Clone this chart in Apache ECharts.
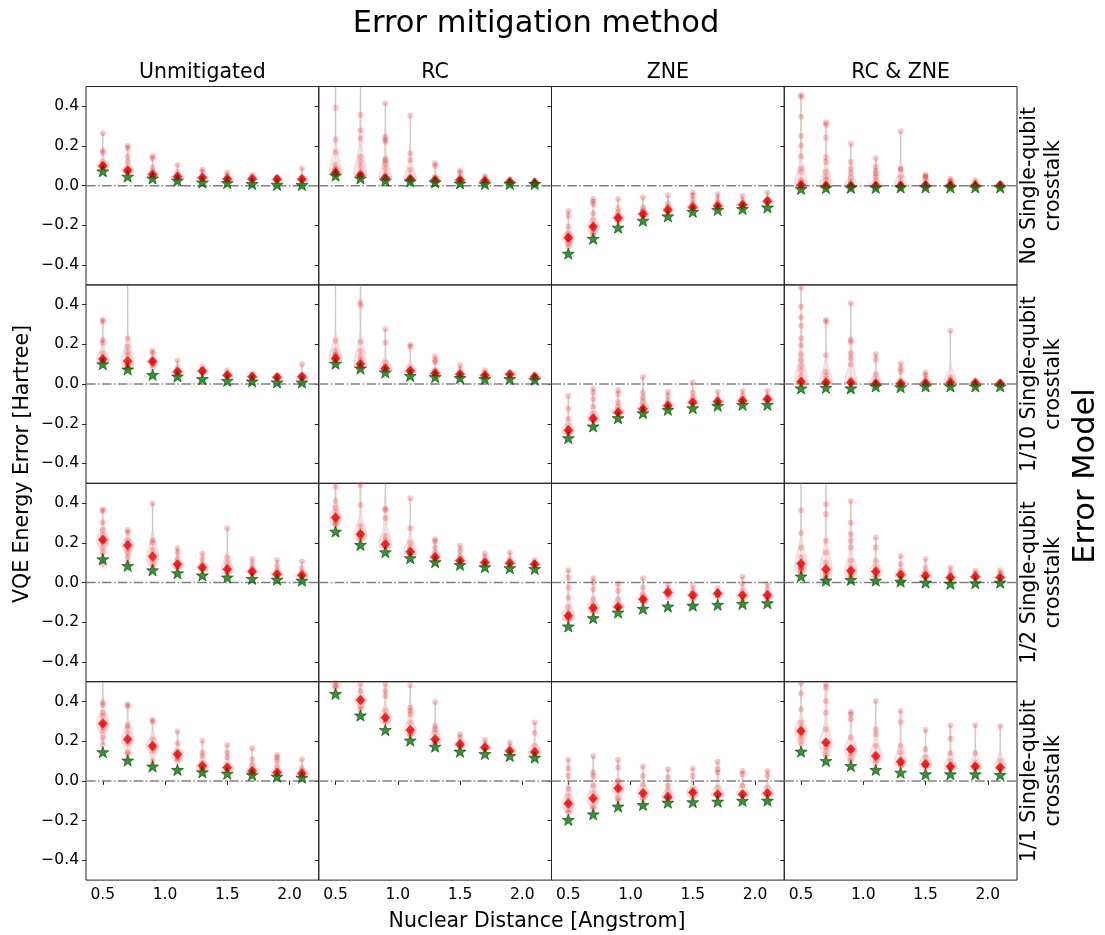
<!DOCTYPE html>
<html>
<head>
<meta charset="utf-8">
<script src="https://cdn.jsdelivr.net/npm/echarts@6/dist/echarts.min.js"></script>
<style>html,body{margin:0;padding:0;background:#fff}#c{width:1105px;height:935px}</style>
</head>
<body>
<div id="c"></div>
<script>
// ---------------- DATA ----------------
const distances = [0.5, 0.7, 0.9, 1.1, 1.3, 1.5, 1.7, 1.9, 2.1];
const xTicks = [0.5, 1.0, 1.5, 2.0];
const yTicks = [-0.4, -0.2, 0.0, 0.2, 0.4];
const methods = ['Unmitigated', 'RC', 'ZNE', 'RC & ZNE'];
const errorModels = ['No Single-qubit\ncrosstalk', '1/10 Single-qubit\ncrosstalk', '1/2 Single-qubit\ncrosstalk', '1/1 Single-qubit\ncrosstalk'];

// Row A: No single-qubit crosstalk
const ideal_A1 = [0.076,0.049,0.040,0.029,0.020,0.017,0.012,0.008,0.007];
const mean_A1  = [0.099,0.076,0.057,0.045,0.040,0.034,0.034,0.032,0.032];
const samples_A1 = [
  [0.264,0.176,0.166,0.121,0.110,0.100,0.098,0.095,0.092,0.104,0.090],
  [0.200,0.190,0.146,0.120,0.090,0.080,0.075,0.070,0.072,0.065],
  [0.150,0.138,0.090,0.070,0.060,0.055,0.050,0.052,0.048],
  [0.104,0.070,0.055,0.048,0.044,0.040,0.038,0.042],
  [0.082,0.070,0.050,0.042,0.038,0.035,0.036],
  [0.066,0.052,0.040,0.034,0.030,0.032,0.028],
  [0.054,0.045,0.036,0.032,0.030,0.028],
  [0.045,0.040,0.034,0.030,0.028,0.026],
  [0.087,0.045,0.036,0.030,0.028,0.026]];
const ideal_A2 = [0.054,0.040,0.029,0.025,0.020,0.015,0.012,0.012,0.012];
const mean_A2  = [0.065,0.054,0.040,0.034,0.029,0.029,0.024,0.020,0.015];
const samples_A2 = [
  [0.62,0.393,0.233,0.168,0.104,0.085,0.075,0.070,0.066,0.064,0.062,0.060,0.080],
  [0.70,0.356,0.280,0.238,0.146,0.121,0.095,0.070,0.060,0.055,0.052,0.050,0.048],
  [0.415,0.247,0.233,0.222,0.134,0.126,0.109,0.087,0.060,0.045,0.040,0.038,0.036],
  [0.354,0.163,0.130,0.079,0.045,0.035,0.032,0.030,0.033],
  [0.113,0.099,0.042,0.030,0.028,0.027,0.026],
  [0.076,0.066,0.045,0.030,0.028,0.026,0.025],
  [0.049,0.040,0.028,0.024,0.022,0.021],
  [0.034,0.024,0.020,0.018,0.017],
  [0.025,0.018,0.015,0.014,0.013]];
const ideal_A3 = [-0.339,-0.264,-0.208,-0.173,-0.151,-0.128,-0.119,-0.114,-0.106];
const mean_A3  = [-0.262,-0.207,-0.161,-0.143,-0.123,-0.109,-0.102,-0.097,-0.079];
const samples_A3 = [
  [-0.128,-0.153,-0.207,-0.240,-0.255,-0.262,-0.270,-0.275,-0.290,-0.307,-0.250],
  [-0.067,-0.080,-0.094,-0.139,-0.173,-0.195,-0.205,-0.210,-0.220,-0.232,-0.250],
  [-0.067,-0.114,-0.135,-0.150,-0.160,-0.165,-0.170,-0.181],
  [-0.059,-0.109,-0.125,-0.135,-0.142,-0.148,-0.155],
  [-0.050,-0.089,-0.105,-0.115,-0.122,-0.128,-0.132],
  [-0.034,-0.050,-0.069,-0.090,-0.100,-0.108,-0.112,-0.115],
  [-0.042,-0.064,-0.085,-0.095,-0.100,-0.105,-0.108],
  [-0.052,-0.076,-0.090,-0.095,-0.098,-0.100],
  [-0.035,-0.064,-0.072,-0.077,-0.080,-0.083]];
const ideal_A4 = [-0.013,-0.008,-0.007,-0.007,-0.005,-0.005,-0.005,-0.005,-0.005];
const mean_A4  = [0.003,0.000,0.000,0.000,0.000,0.002,0.002,0.002,0.002];
const samples_A4 = [
  [0.457,0.448,0.348,0.250,0.203,0.149,0.087,0.070,0.029,0.020,0.010,0.005,0.000,-0.005,0.002],
  [0.319,0.309,0.242,0.143,0.119,0.070,0.045,0.030,0.010,0.003,0.000,-0.004],
  [0.210,0.119,0.087,0.065,0.040,0.020,0.008,0.002,0.000,-0.003],
  [0.138,0.096,0.075,0.062,0.045,0.025,0.010,0.002,0.000,-0.002],
  [0.275,0.087,0.079,0.045,0.020,0.008,0.002,0.000,-0.002],
  [0.054,0.050,0.042,0.030,0.010,0.004,0.001],
  [0.035,0.025,0.020,0.010,0.003,0.001],
  [0.029,0.015,0.005,0.002,0.000],
  [0.012,0.008,0.004,0.002,0.000]];

// Row B: 1/10 single-qubit crosstalk
const ideal_B1 = [0.104,0.077,0.050,0.042,0.029,0.020,0.017,0.012,0.012];
const mean_B1  = [0.126,0.116,0.114,0.062,0.066,0.045,0.037,0.034,0.037];
const samples_B1 = [
  [0.324,0.316,0.222,0.208,0.155,0.125,0.120,0.118,0.115,0.113,0.130],
  [0.55,0.230,0.188,0.163,0.145,0.100,0.090,0.085,0.080,0.095,0.110],
  [0.168,0.155,0.125,0.115,0.110,0.100,0.084,0.120],
  [0.118,0.085,0.070,0.060,0.055,0.050,0.065],
  [0.087,0.075,0.065,0.060,0.055,0.070],
  [0.070,0.055,0.048,0.042,0.040,0.038],
  [0.054,0.045,0.040,0.035,0.032,0.030],
  [0.045,0.038,0.034,0.030,0.028],
  [0.100,0.045,0.038,0.034,0.030,0.028]];
const ideal_B2 = [0.106,0.082,0.062,0.045,0.039,0.034,0.029,0.029,0.025];
const mean_B2  = [0.129,0.101,0.079,0.067,0.055,0.050,0.045,0.050,0.037];
const samples_B2 = [
  [0.56,0.218,0.168,0.150,0.140,0.130,0.125,0.120,0.115,0.135,0.145],
  [0.60,0.411,0.398,0.213,0.168,0.140,0.120,0.105,0.095,0.090,0.088,0.100],
  [0.277,0.210,0.110,0.090,0.080,0.075,0.072,0.070,0.085],
  [0.198,0.188,0.085,0.070,0.062,0.060,0.058,0.065],
  [0.139,0.120,0.110,0.070,0.055,0.050,0.048,0.060],
  [0.096,0.072,0.055,0.048,0.045,0.044],
  [0.070,0.055,0.045,0.040,0.038],
  [0.059,0.050,0.045,0.040,0.038],
  [0.050,0.042,0.038,0.035,0.033]];
const ideal_B3 = [-0.269,-0.210,-0.168,-0.143,-0.126,-0.118,-0.106,-0.101,-0.101];
const mean_B3  = [-0.232,-0.173,-0.143,-0.126,-0.109,-0.092,-0.089,-0.084,-0.076];
const samples_B3 = [
  [-0.059,-0.123,-0.176,-0.210,-0.225,-0.232,-0.238,-0.245,-0.250],
  [-0.022,-0.042,-0.075,-0.113,-0.150,-0.165,-0.172,-0.178,-0.185],
  [-0.030,-0.050,-0.092,-0.115,-0.130,-0.140,-0.145,-0.150],
  [0.034,-0.042,-0.067,-0.089,-0.110,-0.120,-0.125,-0.130],
  [-0.039,-0.060,-0.085,-0.100,-0.105,-0.110,-0.115],
  [0.008,-0.042,-0.067,-0.085,-0.090,-0.095,-0.098],
  [-0.039,-0.067,-0.080,-0.088,-0.092,-0.095],
  [-0.034,-0.059,-0.075,-0.082,-0.086,-0.090],
  [-0.034,-0.059,-0.068,-0.074,-0.078,-0.082]];
const ideal_B4 = [-0.018,-0.015,-0.018,-0.008,-0.012,-0.008,-0.008,-0.008,-0.008];
const mean_B4  = [0.012,0.008,0.008,0.003,0.003,0.005,0.008,0.005,0.003];
const samples_B4 = [
  [0.55,0.487,0.391,0.336,0.294,0.230,0.196,0.150,0.120,0.092,0.070,0.042,0.020,0.010,0.005,0.000,0.015],
  [0.324,0.314,0.146,0.062,0.042,0.025,0.012,0.005,0.002,0.008],
  [0.408,0.223,0.213,0.156,0.130,0.100,0.025,0.010,0.005,0.002,0.008],
  [0.151,0.123,0.050,0.025,0.010,0.004,0.002,0.000],
  [0.104,0.079,0.062,0.017,0.008,0.003,0.001,0.000],
  [0.059,0.045,0.025,0.010,0.005,0.003,0.002],
  [0.269,0.034,0.022,0.010,0.006,0.004,0.003],
  [0.020,0.010,0.006,0.004,0.003],
  [0.013,0.006,0.004,0.002,0.001]];

// Row C: 1/2 single-qubit crosstalk
const ideal_C1 = [0.121,0.087,0.065,0.050,0.039,0.029,0.022,0.018,0.013];
const mean_C1  = [0.215,0.188,0.131,0.092,0.076,0.067,0.055,0.042,0.037];
const samples_C1 = [
  [0.369,0.361,0.302,0.264,0.240,0.220,0.210,0.200,0.176,0.150,0.092],
  [0.264,0.252,0.213,0.200,0.185,0.170,0.150,0.126,0.100],
  [0.398,0.213,0.200,0.165,0.140,0.120,0.100,0.080],
  [0.173,0.151,0.120,0.100,0.090,0.080,0.070],
  [0.146,0.118,0.092,0.080,0.070,0.060],
  [0.274,0.126,0.100,0.080,0.070,0.060,0.045],
  [0.118,0.092,0.070,0.060,0.050,0.045],
  [0.113,0.084,0.060,0.050,0.040,0.035],
  [0.106,0.072,0.050,0.040,0.035,0.030]];
const ideal_C2 = [0.260,0.193,0.156,0.126,0.106,0.092,0.081,0.076,0.072];
const mean_C2  = [0.327,0.243,0.193,0.155,0.129,0.109,0.101,0.097,0.092];
const samples_C2 = [
  [0.53,0.482,0.411,0.378,0.355,0.330,0.320,0.310,0.300,0.290],
  [0.53,0.492,0.391,0.285,0.260,0.250,0.240,0.225,0.215],
  [0.56,0.372,0.365,0.324,0.235,0.210,0.195,0.185,0.175],
  [0.425,0.274,0.200,0.175,0.160,0.150,0.145,0.140],
  [0.218,0.207,0.175,0.150,0.135,0.125,0.120],
  [0.185,0.160,0.135,0.115,0.108,0.104],
  [0.146,0.125,0.108,0.100,0.095],
  [0.151,0.118,0.105,0.098,0.092],
  [0.113,0.100,0.094,0.090,0.088]];
const ideal_C3 = [-0.218,-0.176,-0.148,-0.129,-0.118,-0.113,-0.109,-0.104,-0.101];
const mean_C3  = [-0.168,-0.129,-0.123,-0.084,-0.050,-0.064,-0.055,-0.064,-0.064];
const samples_C3 = [
  [0.062,0.025,-0.025,-0.076,-0.125,-0.150,-0.165,-0.170,-0.180,-0.190],
  [0.022,0.000,-0.034,-0.084,-0.109,-0.120,-0.130,-0.140,-0.150],
  [-0.008,-0.042,-0.084,-0.110,-0.120,-0.125,-0.130],
  [0.022,-0.025,-0.059,-0.075,-0.085,-0.090,-0.100],
  [-0.012,-0.034,-0.042,-0.050,-0.055,-0.075],
  [-0.017,-0.042,-0.055,-0.065,-0.070,-0.084],
  [-0.029,-0.045,-0.050,-0.058,-0.065,-0.070],
  [0.029,-0.008,-0.042,-0.059,-0.065,-0.070,-0.092],
  [-0.008,-0.034,-0.055,-0.064,-0.070,-0.084]];
const ideal_C4 = [0.034,0.013,0.017,0.013,0.008,0.003,-0.003,0.000,0.003];
const mean_C4  = [0.096,0.067,0.059,0.055,0.039,0.034,0.025,0.029,0.025];
const samples_C4 = [
  [0.60,0.364,0.250,0.176,0.126,0.100,0.090,0.080,0.075,0.070,0.060,0.050,0.076],
  [0.58,0.395,0.344,0.210,0.151,0.100,0.080,0.060,0.050,0.040,0.030,0.020],
  [0.411,0.302,0.243,0.210,0.176,0.109,0.080,0.060,0.050,0.040,0.030],
  [0.227,0.176,0.109,0.080,0.060,0.050,0.040,0.030],
  [0.134,0.092,0.059,0.045,0.035,0.030,0.025],
  [0.118,0.076,0.050,0.040,0.030,0.025],
  [0.076,0.050,0.035,0.025,0.020,0.015],
  [0.059,0.045,0.035,0.028,0.022],
  [0.062,0.045,0.030,0.025,0.020]];

// Row D: 1/1 single-qubit crosstalk
const ideal_D1 = [0.148,0.106,0.076,0.059,0.047,0.040,0.034,0.025,0.020];
const mean_D1  = [0.289,0.210,0.176,0.134,0.076,0.067,0.050,0.042,0.037];
const samples_D1 = [
  [0.52,0.395,0.383,0.344,0.327,0.300,0.290,0.280,0.270,0.252,0.218,0.185],
  [0.386,0.378,0.282,0.269,0.240,0.215,0.205,0.188,0.143,0.134],
  [0.307,0.299,0.210,0.185,0.175,0.165,0.151,0.100],
  [0.249,0.190,0.150,0.130,0.120,0.115,0.100],
  [0.202,0.143,0.125,0.090,0.075,0.065,0.060,0.055],
  [0.181,0.143,0.118,0.080,0.065,0.058,0.052],
  [0.165,0.109,0.080,0.060,0.050,0.044,0.040],
  [0.131,0.118,0.100,0.070,0.050,0.040,0.035],
  [0.109,0.064,0.050,0.040,0.035,0.030]];
const ideal_D2 = [0.442,0.333,0.260,0.207,0.176,0.151,0.139,0.129,0.121];
const mean_D2  = [0.505,0.408,0.319,0.257,0.210,0.185,0.168,0.151,0.146];
const samples_D2 = [
  [0.60,0.56,0.52,0.495,0.48,0.47],
  [0.487,0.453,0.420,0.410,0.400,0.378,0.360],
  [0.487,0.453,0.428,0.353,0.330,0.315,0.305,0.294],
  [0.482,0.369,0.353,0.336,0.294,0.265,0.250,0.240,0.230],
  [0.398,0.277,0.260,0.243,0.215,0.205,0.195,0.190],
  [0.235,0.218,0.195,0.185,0.175,0.170],
  [0.207,0.185,0.172,0.165,0.158],
  [0.193,0.170,0.155,0.150,0.145],
  [0.294,0.243,0.176,0.155,0.145,0.140,0.135]];
const ideal_D3 = [-0.193,-0.165,-0.126,-0.118,-0.106,-0.104,-0.101,-0.097,-0.096];
const mean_D3  = [-0.114,-0.087,-0.037,-0.062,-0.081,-0.059,-0.067,-0.067,-0.062];
const samples_D3 = [
  [0.106,0.062,0.025,-0.040,-0.076,-0.100,-0.114,-0.125,-0.145,-0.160],
  [0.126,0.042,0.025,-0.025,-0.060,-0.087,-0.100,-0.125,-0.140],
  [0.106,0.067,0.000,-0.020,-0.037,-0.050,-0.084,-0.100],
  [0.072,0.025,-0.020,-0.050,-0.062,-0.075,-0.092],
  [0.059,0.017,-0.025,-0.050,-0.070,-0.080,-0.088],
  [0.062,0.025,-0.042,-0.055,-0.062,-0.084],
  [0.097,0.059,0.042,-0.034,-0.067,-0.075,-0.076],
  [0.050,0.034,-0.025,-0.060,-0.070,-0.075],
  [0.050,0.025,-0.034,-0.055,-0.065,-0.072]];
const ideal_D4 = [0.151,0.104,0.079,0.059,0.045,0.037,0.037,0.037,0.034];
const mean_D4  = [0.252,0.193,0.160,0.126,0.096,0.084,0.072,0.072,0.067];
const samples_D4 = [
  [0.492,0.440,0.361,0.294,0.270,0.255,0.245,0.230,0.210,0.185],
  [0.487,0.470,0.403,0.344,0.260,0.200,0.185,0.170,0.150,0.126],
  [0.348,0.336,0.311,0.218,0.170,0.155,0.140,0.120,0.100],
  [0.403,0.260,0.235,0.176,0.135,0.120,0.110,0.092],
  [0.353,0.297,0.176,0.143,0.110,0.095,0.085,0.075],
  [0.257,0.160,0.118,0.095,0.085,0.080,0.070],
  [0.280,0.213,0.139,0.100,0.080,0.070,0.065,0.060],
  [0.280,0.139,0.092,0.080,0.072,0.068,0.062],
  [0.277,0.100,0.075,0.070,0.065,0.060]];

const panels = [
  [[ideal_A1,mean_A1,samples_A1],[ideal_A2,mean_A2,samples_A2],[ideal_A3,mean_A3,samples_A3],[ideal_A4,mean_A4,samples_A4]],
  [[ideal_B1,mean_B1,samples_B1],[ideal_B2,mean_B2,samples_B2],[ideal_B3,mean_B3,samples_B3],[ideal_B4,mean_B4,samples_B4]],
  [[ideal_C1,mean_C1,samples_C1],[ideal_C2,mean_C2,samples_C2],[ideal_C3,mean_C3,samples_C3],[ideal_C4,mean_C4,samples_C4]],
  [[ideal_D1,mean_D1,samples_D1],[ideal_D2,mean_D2,samples_D2],[ideal_D3,mean_D3,samples_D3],[ideal_D4,mean_D4,samples_D4]]
];

// ---------------- LAYOUT / STYLE ----------------
const FONT = 'DejaVu Sans';
const GL = 86, GT = 86.5, GW = 232.75, GH = 198.4;
const XMIN = 0.365, XMAX = 2.235;
const VIOLIN_WIDTH = 0.1;
const STAR = 'path://M0,-10 L2.35,-3.24 L9.51,-3.09 L3.8,1.24 L5.88,8.09 L0,4 L-5.88,8.09 L-3.8,1.24 L-9.51,-3.09 L-2.35,-3.24 Z';

// Gaussian KDE between sample min and max (violin body). The dense cluster of
// overlapping runs hidden under the mean marker is represented by giving the
// mean a weight comparable to the visible samples.
function kde(samples, center) {
  const n = samples.length;
  const mu = samples.reduce((a, b) => a + b, 0) / n;
  const sd = Math.sqrt(samples.reduce((a, b) => a + (b - mu) * (b - mu), 0) / Math.max(1, n - 1)) || 1e-3;
  const bw = 0.6 * sd * Math.pow(n, -0.2);
  const lo = Math.min(center, ...samples), hi = Math.max(center, ...samples);
  const wc = n * 0.9;
  const ys = [], d = [];
  const N = 100;
  for (let k = 0; k <= N; k++) {
    const y = lo + (hi - lo) * k / N;
    let s = 0;
    for (const v of samples) { const z = (y - v) / bw; s += Math.exp(-0.5 * z * z); }
    const zc = (y - center) / bw; s += wc * Math.exp(-0.5 * zc * zc);
    ys.push(y); d.push(s);
  }
  const m = Math.max(...d);
  return { ys, hw: d.map(v => v / m * VIOLIN_WIDTH / 2), lo, hi };
}

const grid = [], xAxis = [], yAxis = [], series = [];
const fmtY = v => (v < -1e-9 ? '\u2212' : '') + Math.abs(v).toFixed(1);

for (let r = 0; r < 4; r++) {
  for (let c = 0; c < 4; c++) {
    const gi = r * 4 + c;
    const [ideal, mean, samples] = panels[r][c];
    grid.push({ left: GL + c * GW, top: GT + r * GH, width: GW, height: GH,
      show: true, borderColor: '#222', borderWidth: 1, backgroundColor: 'rgba(0,0,0,0)' });
    xAxis.push({ gridIndex: gi, type: 'value', min: XMIN, max: XMAX,
      axisLine: { show: false }, splitLine: { show: false },
      axisTick: { show: r === 3, customValues: xTicks, length: 4, lineStyle: { color: '#222' } },
      axisLabel: { show: r === 3, customValues: xTicks, formatter: v => v.toFixed(1), fontFamily: FONT, fontSize: 15.5, color: '#000', margin: 7 } });
    yAxis.push({ gridIndex: gi, type: 'value', min: -0.5, max: 0.5,
      axisLine: { show: false }, splitLine: { show: false },
      axisTick: { show: true, customValues: yTicks, length: 4, lineStyle: { color: '#222' } },
      axisLabel: { show: c === 0, customValues: yTicks, formatter: fmtY, fontFamily: FONT, fontSize: 15.5, color: '#000', margin: 7 } });

    // zero reference line
    series.push({ type: 'line', xAxisIndex: gi, yAxisIndex: gi, data: [[XMIN, 0], [XMAX, 0]],
      symbol: 'none', silent: true, z: 1, animation: false,
      lineStyle: { color: '#808080', width: 1.5, type: [9.6, 2.4, 1.5, 2.4] } });

    // violins
    const vd = distances.map((x, i) => Object.assign({ x }, kde(samples[i], mean[i])));
    series.push({ type: 'custom', xAxisIndex: gi, yAxisIndex: gi, clip: true, z: 2, silent: true, animation: false,
      data: distances.map((x, i) => [x, mean[i]]),
      renderItem: (params, api) => {
        const v = vd[params.dataIndex];
        const L = [], R = [];
        for (let k = 0; k < v.ys.length; k++) {
          L.push(api.coord([v.x - v.hw[k], v.ys[k]]));
          R.push(api.coord([v.x + v.hw[k], v.ys[k]]));
        }
        const pts = L.concat(R.reverse());
        const a = api.coord([v.x, v.lo]), b = api.coord([v.x, v.hi]);
        return { type: 'group', children: [
          { type: 'polygon', shape: { points: pts }, style: { fill: 'rgba(255,60,60,0.12)', stroke: 'rgba(150,130,130,0.22)', lineWidth: 1 } },
          { type: 'line', shape: { x1: a[0], y1: a[1], x2: b[0], y2: b[1] }, style: { stroke: 'rgba(160,160,160,0.22)', lineWidth: 1.5 } }
        ] };
      } });

    // individual samples
    const pts = [];
    distances.forEach((x, i) => samples[i].forEach(v => pts.push([x, v])));
    series.push({ type: 'scatter', xAxisIndex: gi, yAxisIndex: gi, data: pts, clip: true, z: 3, silent: true, animation: false,
      symbol: 'circle', symbolSize: 6, itemStyle: { color: 'rgba(255,0,0,0.28)' } });

    // mean (red diamond)
    series.push({ type: 'scatter', xAxisIndex: gi, yAxisIndex: gi, data: distances.map((x, i) => [x, mean[i]]),
      clip: true, z: 4, silent: true, animation: false,
      symbol: 'diamond', symbolSize: 10, itemStyle: { color: '#ff0000' } });

    // ideal (green star)
    series.push({ type: 'scatter', xAxisIndex: gi, yAxisIndex: gi, data: distances.map((x, i) => [x, ideal[i]]),
      clip: true, z: 5, silent: true, animation: false,
      symbol: STAR, symbolSize: [12, 11.4], symbolOffset: [0, 0.6],
      itemStyle: { color: '#007a00', borderColor: '#003300', borderWidth: 0.7 } });
  }
}

// ---------------- TEXT ----------------
const graphic = [];
const txt = (text, x, y, size, rot) => graphic.push({ type: 'text', x, y, rotation: rot || 0, silent: true, z: 100,
  style: { text, font: size + 'px "' + FONT + '"', fill: '#000', textAlign: 'center', textVerticalAlign: 'middle', align: 'center', verticalAlign: 'middle', lineHeight: Math.round(size * 1.17) } });

txt('Error mitigation method', 536, 24, 30.5);
methods.forEach((m, c) => txt(m, GL + c * GW + GW / 2, 73, 20.5));
errorModels.forEach((m, r) => txt(m, 1042, GT + r * GH + GH / 2, 20.5, Math.PI / 2));
txt('Error Model', 1086, 476, 30.5, Math.PI / 2);
txt('VQE Energy Error [Hartree]', 23, 464, 20.5, Math.PI / 2);
txt('Nuclear Distance [Angstrom]', 537, 922, 20.5);

const chart = echarts.init(document.getElementById('c'), null, { renderer: 'canvas' });
chart.setOption({ animation: false, backgroundColor: '#fff', grid, xAxis, yAxis, series, graphic });
</script>
</body>
</html>
